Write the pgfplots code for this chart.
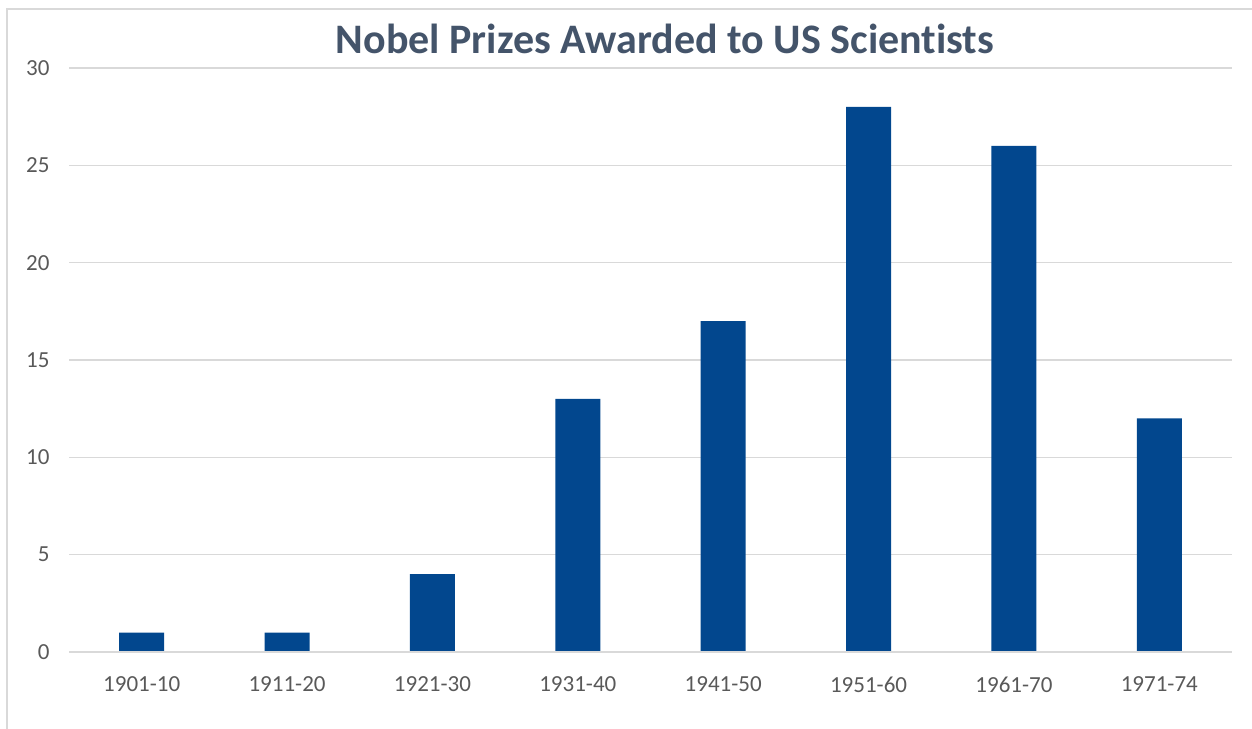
\documentclass[border=0pt]{standalone}
\usepackage{pgfplots}
\pgfplotsset{compat=1.18}
\usepackage{fontspec}
\setmainfont{Carlito}[RawFeature={-liga}]
\definecolor{barblue}{RGB}{2,71,142}
\definecolor{titlec}{RGB}{68,84,106}
\definecolor{tickc}{RGB}{89,89,89}
\definecolor{gridc}{RGB}{217,217,217}
\begin{document}
\begin{tikzpicture}
\useasboundingbox (0,0) rectangle (1252bp,729bp);
\draw[gridc, line width=2bp] (7bp,0) -- (7bp,720bp) -- (1252bp,720bp);
\node[font=\fontsize{42bp}{48bp}\selectfont\bfseries, text=titlec] at (665bp,690bp) {Nobel Prizes Awarded to US Scientists};
\begin{axis}[
  at={(69bp,77bp)}, anchor=south west,
  scale only axis, width=1163bp, height=584bp,
  xmin=-0.5, xmax=7.5, ymin=0, ymax=30,
  ytick={0,5,...,30},
  xtick=data,
  xticklabels={1901-10,1911-20,1921-30,1931-40,1941-50,1951-60,1961-70,1971-74},
  axis line style={draw=none},
  major tick length=0pt,
  ymajorgrids, grid style={gridc, line width=1.5bp},
  tick label style={font=\fontsize{23bp}{27bp}\selectfont, text=tickc},
  /pgf/number format/assume math mode=true,
  xticklabel style={yshift=-21bp},
  yticklabel style={xshift=-16bp},
  clip=false,
]
\addplot[ybar, bar width=45bp, fill=barblue, draw=none] coordinates {
(0,1) (1,1) (2,4) (3,13) (4,17) (5,28) (6,26) (7,12)};
\draw[gridc, line width=1.5bp] (axis cs:-0.5,0) -- (axis cs:7.5,0);
\end{axis}
\end{tikzpicture}
\end{document}
